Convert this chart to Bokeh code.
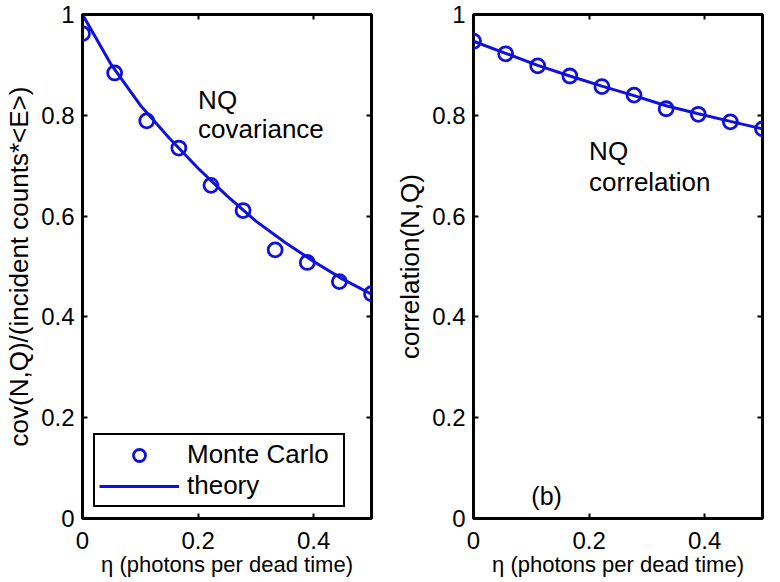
from bokeh.plotting import figure
from bokeh.layouts import row
from bokeh.models import (LinearAxis, Range1d, FixedTicker, Legend, LegendItem, Label,
                          CustomJSTickFormatter)
from bokeh.embed import file_html
from bokeh.resources import INLINE

# ---------------- data ----------------
eta_mc = [0.0, 0.0556, 0.1111, 0.1667, 0.2222, 0.2778, 0.3333, 0.3889, 0.4444, 0.5]
cov_mc = [0.962, 0.884, 0.789, 0.735, 0.661, 0.611, 0.533, 0.508, 0.470, 0.446]

eta_th = [0.0, 0.05, 0.10, 0.15, 0.20, 0.25, 0.30, 0.35, 0.40, 0.45, 0.50]
cov_th = [1.000, 0.900, 0.820, 0.755, 0.695, 0.640, 0.590, 0.548, 0.510, 0.475, 0.445]

corr_mc = [0.947, 0.922, 0.898, 0.878, 0.857, 0.840, 0.813, 0.802, 0.787, 0.773]
corr_th = [0.947, 0.923, 0.899, 0.878, 0.858, 0.839, 0.819, 0.803, 0.788, 0.773]

x_ticks = [0, 0.2, 0.4]
y_ticks = [0, 0.2, 0.4, 0.6, 0.8, 1.0]

BLUE = "#1010dd"
FONT = "Liberation Sans"


def style_axis(ax, ticks, show_labels=True, standoff=8):
    ax.ticker = FixedTicker(ticks=ticks)
    ax.major_tick_in = 5
    ax.major_tick_out = 0
    ax.minor_tick_in = 0
    ax.minor_tick_out = 0
    ax.major_tick_line_width = 2
    ax.major_tick_line_color = "black"
    ax.axis_line_color = None
    ax.major_label_text_font = FONT
    ax.major_label_text_color = "black"
    if show_labels:
        ax.major_label_text_font_size = "24px"
        ax.major_label_standoff = standoff
    else:
        ax.formatter = CustomJSTickFormatter(code="return ''")
        ax.major_label_text_font_size = "1px"
        ax.major_label_standoff = 0
    ax.axis_label_text_font = FONT
    ax.axis_label_text_font_style = "normal"
    ax.axis_label_text_color = "black"


def make_fig(left, right, ylabel):
    p = figure(frame_width=289, frame_height=504, output_backend="svg", toolbar_location=None,
               x_range=Range1d(0, 0.5), y_range=Range1d(0, 1),
               min_border_left=left, min_border_right=right,
               min_border_top=14, min_border_bottom=0)
    p.grid.visible = False
    p.outline_line_color = "black"
    p.outline_line_width = 3
    p.outline_line_alpha = 1
    p.background_fill_color = "white"
    p.border_fill_color = "white"
    style_axis(p.xaxis[0], x_ticks, standoff=13)
    style_axis(p.yaxis[0], y_ticks, standoff=8)
    p.xaxis[0].axis_label = "\u03b7 (photons per dead time)"
    p.xaxis[0].axis_label_text_font_size = "22px"
    p.xaxis[0].axis_label_standoff = 0
    p.yaxis[0].axis_label = ylabel
    p.yaxis[0].axis_label_text_font_size = "26px"
    p.yaxis[0].axis_label_standoff = 4
    top = LinearAxis()
    style_axis(top, x_ticks, show_labels=False)
    p.add_layout(top, "above")
    rgt = LinearAxis()
    style_axis(rgt, y_ticks, show_labels=False)
    p.add_layout(rgt, "right")
    return p


# ---------------- left panel ----------------
p1 = make_fig(82, 19, "cov(N,Q)/(incident counts*<E>)")
r_mc = p1.scatter(eta_mc, cov_mc, marker="circle", size=14, fill_color=None,
                  line_color=BLUE, line_width=2.8)
r_th = p1.line(eta_th, cov_th, line_color=BLUE, line_width=3)
legend = Legend(items=[LegendItem(label="Monte Carlo", renderers=[r_mc]),
                       LegendItem(label="theory", renderers=[r_th])],
                location="bottom_left")
legend.margin = 11
legend.padding = 4
legend.spacing = 0
legend.glyph_width = 80
legend.glyph_height = 30
legend.label_height = 30
legend.label_width = 152
legend.label_standoff = 8
legend.label_text_font = FONT
legend.label_text_font_size = "26px"
legend.label_text_color = "black"
legend.border_line_color = "black"
legend.border_line_alpha = 1
legend.border_line_width = 2
legend.background_fill_alpha = 1
p1.add_layout(legend, "center")
for txt, yv in (("NQ", 0.83), ("covariance", 0.772)):
    p1.add_layout(Label(x=0.2, y=yv, text=txt, text_font=FONT, text_font_size="26px",
                        text_color="black", text_baseline="alphabetic"))

# ---------------- right panel ----------------
p2 = make_fig(83, 10, "correlation(N,Q)")
p2.line(eta_mc, corr_th, line_color=BLUE, line_width=3)
p2.scatter(eta_mc, corr_mc, marker="circle", size=14, fill_color=None,
           line_color=BLUE, line_width=2.8)
for txt, yv in (("NQ", 0.73), ("correlation", 0.667)):
    p2.add_layout(Label(x=0.2, y=yv, text=txt, text_font=FONT, text_font_size="26px",
                        text_color="black", text_baseline="alphabetic"))
p2.add_layout(Label(x=0.1, y=0.044, text="(b)", text_font=FONT, text_font_size="25px",
                    text_color="black", text_baseline="alphabetic"))

layout = row(p1, p2, spacing=0)
open("out.html", "w").write(file_html(layout, INLINE))
